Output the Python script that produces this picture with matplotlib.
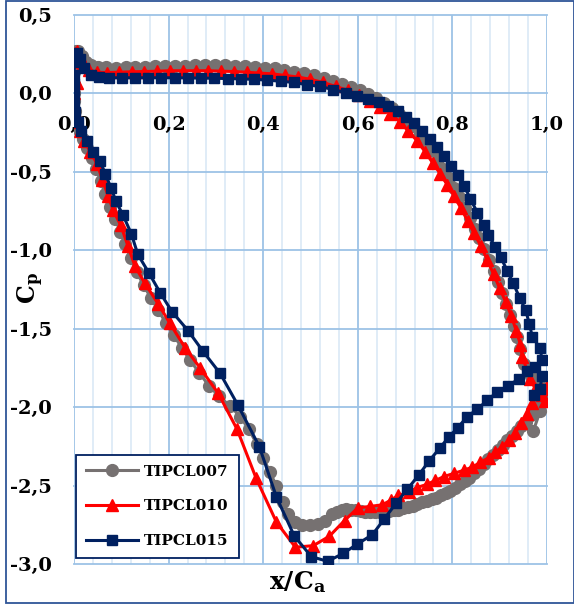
import matplotlib
matplotlib.use("Agg")
import matplotlib.pyplot as plt
from matplotlib.ticker import MultipleLocator, FuncFormatter
from matplotlib.patches import Rectangle

plt.rcParams['font.family'] = ['DejaVu Serif']
plt.rcParams['font.weight'] = 'bold'
plt.rcParams['mathtext.fontset'] = 'dejavuserif'
plt.rcParams['axes.unicode_minus'] = False

# TIPCL007 - pressure side (TE -> LE) then suction side (LE -> TE)
x007 = [0.971, 0.986, 0.997, 0.985, 0.966, 0.952, 0.943, 0.937, 0.930, 0.922,
        0.914, 0.905, 0.896, 0.887, 0.877, 0.867, 0.857, 0.847, 0.837, 0.826,
        0.815, 0.804, 0.793, 0.781, 0.769, 0.757, 0.744, 0.731, 0.717, 0.703,
        0.688, 0.672, 0.656, 0.639, 0.622, 0.604, 0.586, 0.567, 0.548, 0.528,
        0.508, 0.487, 0.466, 0.445, 0.424, 0.403, 0.382, 0.361, 0.340, 0.319,
        0.298, 0.277, 0.256, 0.235, 0.214, 0.193, 0.172, 0.151, 0.130, 0.109,
        0.088, 0.068, 0.050, 0.036, 0.025, 0.016, 0.009, 0.004, 0.001, 0.000,
        0.000, 0.000,
        0.000, 0.002, 0.005, 0.010, 0.018, 0.028, 0.038, 0.047, 0.057, 0.066,
        0.076, 0.087, 0.098, 0.108, 0.120, 0.133, 0.147, 0.162, 0.178, 0.194,
        0.211, 0.228, 0.246, 0.265, 0.285, 0.307, 0.330, 0.352, 0.370, 0.386,
        0.400, 0.414, 0.428, 0.441, 0.453, 0.467, 0.483, 0.499, 0.515, 0.530,
        0.546, 0.556, 0.566, 0.576, 0.586, 0.596, 0.606, 0.616, 0.626, 0.636,
        0.646, 0.656, 0.666, 0.676, 0.686, 0.696, 0.706, 0.716, 0.726, 0.736,
        0.746, 0.756, 0.766, 0.776, 0.786, 0.796, 0.806, 0.816, 0.826, 0.836,
        0.846, 0.856, 0.866, 0.876, 0.886, 0.896, 0.906, 0.916, 0.926, 0.936,
        0.946, 0.956, 0.966, 0.976, 0.986, 0.995]
cp007 = [-2.15, -2.02, -1.95, -1.86, -1.80, -1.72, -1.63, -1.55, -1.48, -1.41,
         -1.34, -1.27, -1.20, -1.13, -1.06, -0.99, -0.92, -0.86, -0.79, -0.73,
         -0.66, -0.60, -0.54, -0.48, -0.42, -0.36, -0.31, -0.26, -0.21, -0.17,
         -0.13, -0.09, -0.06, -0.03, -0.005, 0.02, 0.04, 0.06, 0.08, 0.10,
         0.115, 0.13, 0.14, 0.15, 0.16, 0.165, 0.17, 0.175, 0.178, 0.18,
         0.18, 0.18, 0.18, 0.178, 0.176, 0.174, 0.172, 0.17, 0.168, 0.166,
         0.165, 0.166, 0.17, 0.18, 0.20, 0.24, 0.27, 0.27, 0.22, 0.14,
         0.06, 0.00,
         -0.05, -0.11, -0.17, -0.23, -0.29, -0.35, -0.41, -0.48, -0.56, -0.64,
         -0.72, -0.80, -0.88, -0.96, -1.05, -1.14, -1.22, -1.30, -1.38, -1.46,
         -1.54, -1.62, -1.70, -1.78, -1.86, -1.93, -1.99, -2.06, -2.14, -2.23,
         -2.32, -2.41, -2.50, -2.60, -2.68, -2.73, -2.75, -2.75, -2.74, -2.72,
         -2.68, -2.665, -2.65, -2.645, -2.65, -2.655, -2.66, -2.665, -2.665, -2.665,
         -2.665, -2.66, -2.66, -2.655, -2.65, -2.64, -2.635, -2.625, -2.615, -2.605,
         -2.595, -2.585, -2.575, -2.56, -2.545, -2.53, -2.51, -2.49, -2.47, -2.45,
         -2.42, -2.39, -2.36, -2.33, -2.30, -2.27, -2.24, -2.21, -2.18, -2.15,
         -2.12, -2.09, -2.05, -2.00, -1.96, -1.92]

# TIPCL010
x010 = [0.990, 0.975, 0.965, 0.948, 0.944, 0.935, 0.925, 0.913, 0.900, 0.887,
        0.874, 0.860, 0.846, 0.832, 0.818, 0.803, 0.789, 0.774, 0.758, 0.742,
        0.725, 0.707, 0.689, 0.669, 0.648, 0.626, 0.603, 0.579, 0.553, 0.527,
        0.500, 0.473, 0.446, 0.419, 0.392, 0.365, 0.338, 0.311, 0.284, 0.257,
        0.230, 0.203, 0.176, 0.149, 0.122, 0.095, 0.070, 0.048, 0.032, 0.020,
        0.012, 0.007, 0.003, 0.000, -0.002, -0.008, 0.006, 0.000,
        0.000, 0.002, 0.006, 0.012, 0.022, 0.034, 0.049, 0.060, 0.072, 0.083,
        0.099, 0.114, 0.129, 0.150, 0.178, 0.203, 0.235, 0.267, 0.305, 0.345,
        0.385, 0.428, 0.468, 0.506, 0.540, 0.572, 0.600, 0.626, 0.652, 0.670,
        0.686, 0.708, 0.725, 0.746, 0.764, 0.782, 0.803, 0.824, 0.842, 0.859,
        0.877, 0.891, 0.905, 0.919, 0.933, 0.946, 0.958, 0.968, 0.979, 0.990,
        1.000, 0.995]
cp010 = [-1.92, -1.88, -1.82, -1.68, -1.60, -1.51, -1.42, -1.33, -1.24, -1.15,
         -1.06, -0.97, -0.89, -0.81, -0.73, -0.65, -0.58, -0.51, -0.44, -0.37,
         -0.30, -0.24, -0.18, -0.13, -0.085, -0.045, -0.01, 0.02, 0.045, 0.07,
         0.09, 0.105, 0.115, 0.125, 0.13, 0.135, 0.14, 0.142, 0.145, 0.145,
         0.145, 0.145, 0.142, 0.14, 0.138, 0.135, 0.133, 0.135, 0.15, 0.19,
         0.24, 0.27, 0.26, 0.20, 0.12, 0.064, 0.064, 0.00,
         -0.06, -0.12, -0.18, -0.24, -0.30, -0.37, -0.45, -0.55, -0.65, -0.745,
         -0.84, -0.97, -1.10, -1.21, -1.34, -1.465, -1.62, -1.75, -1.91, -2.14,
         -2.45, -2.73, -2.89, -2.88, -2.82, -2.72, -2.64, -2.63, -2.62, -2.59,
         -2.56, -2.54, -2.51, -2.49, -2.465, -2.44, -2.42, -2.40, -2.38, -2.35,
         -2.32, -2.285, -2.25, -2.21, -2.16, -2.10, -2.04, -1.97, -1.91, -1.88,
         -1.86, -1.96]

# TIPCL015
x015 = [0.990, 0.985, 0.969, 0.963, 0.955, 0.942, 0.929, 0.916, 0.902, 0.891,
        0.876, 0.866, 0.853, 0.838, 0.825, 0.812, 0.797, 0.782, 0.767, 0.752,
        0.736, 0.719, 0.702, 0.684, 0.664, 0.644, 0.622, 0.599, 0.575, 0.548,
        0.520, 0.493, 0.466, 0.437, 0.409, 0.381, 0.353, 0.325, 0.297, 0.269,
        0.241, 0.213, 0.185, 0.157, 0.129, 0.101, 0.075, 0.052, 0.035, 0.022,
        0.013, 0.007, 0.003, 0.001, 0.000, 0.000, 0.000,
        0.001, 0.003, 0.008, 0.015, 0.027, 0.040, 0.055, 0.066, 0.078, 0.089,
        0.104, 0.121, 0.135, 0.159, 0.182, 0.207, 0.241, 0.273, 0.309, 0.347,
        0.392, 0.428, 0.466, 0.502, 0.536, 0.569, 0.599, 0.631, 0.656, 0.681,
        0.705, 0.729, 0.751, 0.773, 0.792, 0.811, 0.831, 0.853, 0.874, 0.895,
        0.918, 0.940, 0.958, 0.975, 0.990, 0.985, 0.972]
cp015 = [-1.70, -1.62, -1.55, -1.47, -1.38, -1.30, -1.21, -1.13, -1.04, -0.98,
         -0.90, -0.84, -0.76, -0.67, -0.59, -0.52, -0.46, -0.40, -0.34, -0.29,
         -0.24, -0.19, -0.15, -0.11, -0.08, -0.055, -0.035, -0.015, 0.005, 0.025,
         0.045, 0.055, 0.07, 0.078, 0.085, 0.09, 0.093, 0.095, 0.097, 0.098,
         0.099, 0.10, 0.10, 0.10, 0.10, 0.10, 0.10, 0.105, 0.12, 0.16,
         0.22, 0.26, 0.25, 0.20, 0.12, 0.06, 0.00,
         -0.06, -0.12, -0.18, -0.24, -0.30, -0.37, -0.43, -0.51, -0.60, -0.688,
         -0.777, -0.892, -1.025, -1.146, -1.268, -1.389, -1.51, -1.643, -1.783, -1.987,
         -2.25, -2.57, -2.82, -2.95, -2.98, -2.93, -2.87, -2.81, -2.71, -2.61,
         -2.52, -2.43, -2.34, -2.26, -2.19, -2.13, -2.06, -2.01, -1.955, -1.90,
         -1.86, -1.82, -1.77, -1.74, -1.80, -1.88, -1.92]

fig = plt.figure(figsize=(5.74, 6.09), dpi=100)
ax = fig.add_axes([0.1289, 0.0731, 0.824, 0.9023])

ax.plot(x007, cp007, color='#767171', lw=2.2, marker='o', ms=8.5,
        label='TIPCL007', zorder=3)
ax.plot(x010, cp010, color='#FF0000', lw=2.2, marker='^', ms=8.2,
        label='TIPCL010', zorder=4)
ax.plot(x015, cp015, color='#002060', lw=2.2, marker='s', ms=7.0,
        label='TIPCL015', zorder=5)

ax.set_xlim(0, 1.0)
ax.set_ylim(-3.0, 0.5)
ax.xaxis.set_major_locator(MultipleLocator(0.2))
ax.xaxis.set_minor_locator(MultipleLocator(0.04))
ax.yaxis.set_major_locator(MultipleLocator(0.5))
comma = FuncFormatter(lambda v, p: f"{v:.1f}".replace('.', ','))
ax.xaxis.set_major_formatter(comma)
ax.yaxis.set_major_formatter(comma)

ax.set_axisbelow(True)
ax.grid(which='minor', axis='x', color='#DDEBF7', lw=1.3)
ax.grid(which='major', color='#9DC3E6', lw=1.3)
for g in ax.get_xgridlines() + ax.get_ygridlines():
    g.set_clip_on(False)

for s in ax.spines.values():
    s.set_visible(False)
ax.spines['bottom'].set_position(('data', 0))

ax.tick_params(axis='both', which='both', length=0)
ax.tick_params(axis='x', pad=16, labelsize=14)
ax.tick_params(axis='y', pad=16, labelsize=14)

fig.text(31 / 574, 1 - 288 / 609, r'$\mathbf{C_p}$', rotation=90,
         ha='center', va='center', fontsize=17)
fig.text(298 / 574, 1 - 582 / 609, r'$\mathbf{x/C_a}$',
         ha='center', va='center', fontsize=18)

leg = ax.legend(loc='lower left', bbox_to_anchor=(76 / 574, 1 - 558 / 609),
                bbox_transform=fig.transFigure, borderaxespad=0,
                fontsize=11, handlelength=3.4, handletextpad=0.4,
                labelspacing=1.35, borderpad=0.65, fancybox=False,
                framealpha=1)
leg.get_frame().set_edgecolor('#002060')
leg.get_frame().set_linewidth(1.3)

fig.patches.append(Rectangle((6 / 574, 1 - 603 / 609), 567.5 / 574, 602 / 609,
                             transform=fig.transFigure, fill=False,
                             edgecolor='#2F5597', lw=1.3))

fig.savefig('out.png', dpi=100)
